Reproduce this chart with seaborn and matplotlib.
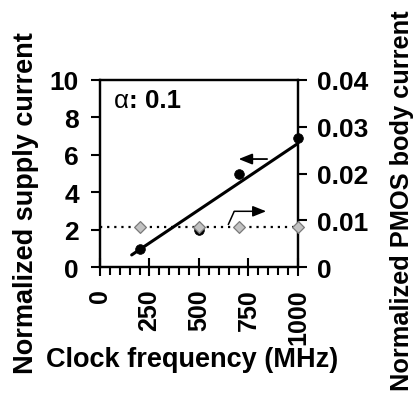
import matplotlib
matplotlib.use("Agg")
import matplotlib.pyplot as plt
from matplotlib.ticker import MultipleLocator, FixedLocator
import seaborn as sns
import pandas as pd

# measured points
clock_mhz = [200, 500, 700, 1000]
supply_current = [1.0, 2.0, 5.0, 6.9]
body_current = [0.0087, 0.0087, 0.0087, 0.0087]
body_level = 0.0087

# straight-line trend through the supply current
fit_mhz = [160, 995]
fit_current = [0.66, 6.58]

x_ticks = [0, 250, 500, 750, 1000]
left_ticks = [0, 2, 4, 6, 8, 10]
right_ticks = [0, 0.01, 0.02, 0.03, 0.04]
right_tick_labels = ["0", "0.01", "0.02", "0.03", "0.04"]

sns.set_style("ticks")
plt.rcParams["font.family"] = ["Liberation Sans", "DejaVu Sans"]
plt.rcParams["font.weight"] = "bold"
for key in ("text.color", "axes.labelcolor", "xtick.color", "ytick.color",
            "axes.edgecolor"):
    plt.rcParams[key] = "black"

W, H = 414, 410
fig = plt.figure(figsize=(W / 100, H / 100), dpi=100)
left_px, right_px, top_px, bottom_px = 100, 298, 81, 268.3
ax = fig.add_axes([left_px / W, 1 - bottom_px / H,
                   (right_px - left_px) / W, (bottom_px - top_px) / H])
ax2 = ax.twinx()


def ax_x(px):
    return (px - left_px) / (right_px - left_px)


def ax_y(px):
    return (bottom_px - px) / (bottom_px - top_px)


df = pd.DataFrame({"clock": clock_mhz, "supply": supply_current,
                   "body": body_current})
fit = pd.DataFrame({"clock": fit_mhz, "supply": fit_current})

sns.lineplot(data=fit, x="clock", y="supply", ax=ax, color="black",
             linewidth=2.2, zorder=3)
sns.scatterplot(data=df, x="clock", y="supply", ax=ax, color="black",
                marker="o", s=7.0 ** 2, edgecolor="black", linewidth=0.5,
                zorder=4, clip_on=False)

ax2.axhline(body_level, color="black", linestyle=(0, (1, 2.2)),
            linewidth=1.6, zorder=2)
sns.scatterplot(data=df, x="clock", y="body", ax=ax2, marker="D",
                s=6.0 ** 2, color="#c2c2c2", edgecolor="#7a7a7a",
                linewidth=0.9, zorder=5, clip_on=False)

ax.set_xlim(0, 1000)
ax.set_ylim(0, 10)
ax2.set_ylim(0, 0.04)

tick_fs = 19
label_fs = 19.5
lw_axis = 1.6

for a in (ax, ax2):
    for s in a.spines.values():
        s.set_visible(True)
        s.set_linewidth(lw_axis)
        s.set_color("black")

ax.xaxis.set_major_locator(FixedLocator(x_ticks))
ax.xaxis.set_minor_locator(MultipleLocator(50))
ax.set_xticks(x_ticks)
ax.set_xticklabels([str(v) for v in x_ticks], rotation=90,
                   fontsize=18, fontweight="bold")
ax.tick_params(axis="x", which="major", direction="inout", length=13.2,
               width=1.5, pad=8.5, top=False)
ax.tick_params(axis="x", which="minor", direction="out", length=6,
               width=1.5, top=False)

ax.set_yticks(left_ticks)
ax.set_yticklabels([str(v) for v in left_ticks], fontsize=tick_fs,
                   fontweight="bold")
ax.tick_params(axis="y", which="major", direction="out", length=6.8,
               width=1.5, pad=8.3, right=False)

ax2.set_yticks(right_ticks)
ax2.set_yticklabels(right_tick_labels, fontsize=tick_fs, fontweight="bold")
ax2.tick_params(axis="y", which="major", direction="out", length=6.5,
                width=1.5, pad=7.5)

ax.set_xlabel("Clock frequency (MHz)", fontsize=label_fs, fontweight="bold")
ax.xaxis.set_label_coords(ax_x(192), ax_y(367.3))
ax.xaxis.label.set(va="baseline", ha="center")

ax.set_ylabel("Normalized supply current", fontsize=label_fs,
              fontweight="bold")
ax.yaxis.label.set(va="center", ha="center", rotation_mode="default")
ax.yaxis.set_label_coords(ax_x(26), ax_y(203.5))

ax2.set_ylabel("Normalized PMOS body current", fontsize=18.3,
               fontweight="bold")
ax2.yaxis.label.set(va="center", ha="center", rotation_mode="default",
                    rotation=90)
ax2.yaxis.set_label_coords(ax_x(401.7), ax_y(201))

# alpha annotation: greek letter in regular weight, value in bold
t1 = ax2.text(ax_x(114), ax_y(113), "α", transform=ax2.transAxes,
              fontsize=18.6, fontweight="normal", va="bottom", ha="left")
ax2.annotate(": 0.1", xy=(1, 0), xycoords=t1, fontsize=18.6,
             fontweight="bold", va="bottom", ha="left")

# arrows marking which axis each series belongs to
arrow_style = "-|>,head_length=0.45,head_width=0.18"
ax.annotate("", xy=(700, 5.78), xytext=(844, 5.78),
            arrowprops=dict(arrowstyle=arrow_style, color="black",
                            lw=1.3, mutation_scale=18,
                            shrinkA=0, shrinkB=0))
ax.plot([647, 678], [2.26, 2.99], color="black", lw=1.1,
        solid_capstyle="butt")
ax.annotate("", xy=(839, 2.99), xytext=(678, 2.99),
            arrowprops=dict(arrowstyle=arrow_style, color="black",
                            lw=1.1, mutation_scale=18,
                            shrinkA=0, shrinkB=0))

ax2.set_zorder(ax.get_zorder() + 1)
ax.patch.set_visible(True)
ax2.patch.set_visible(False)

fig.savefig("out.png", dpi=100)
